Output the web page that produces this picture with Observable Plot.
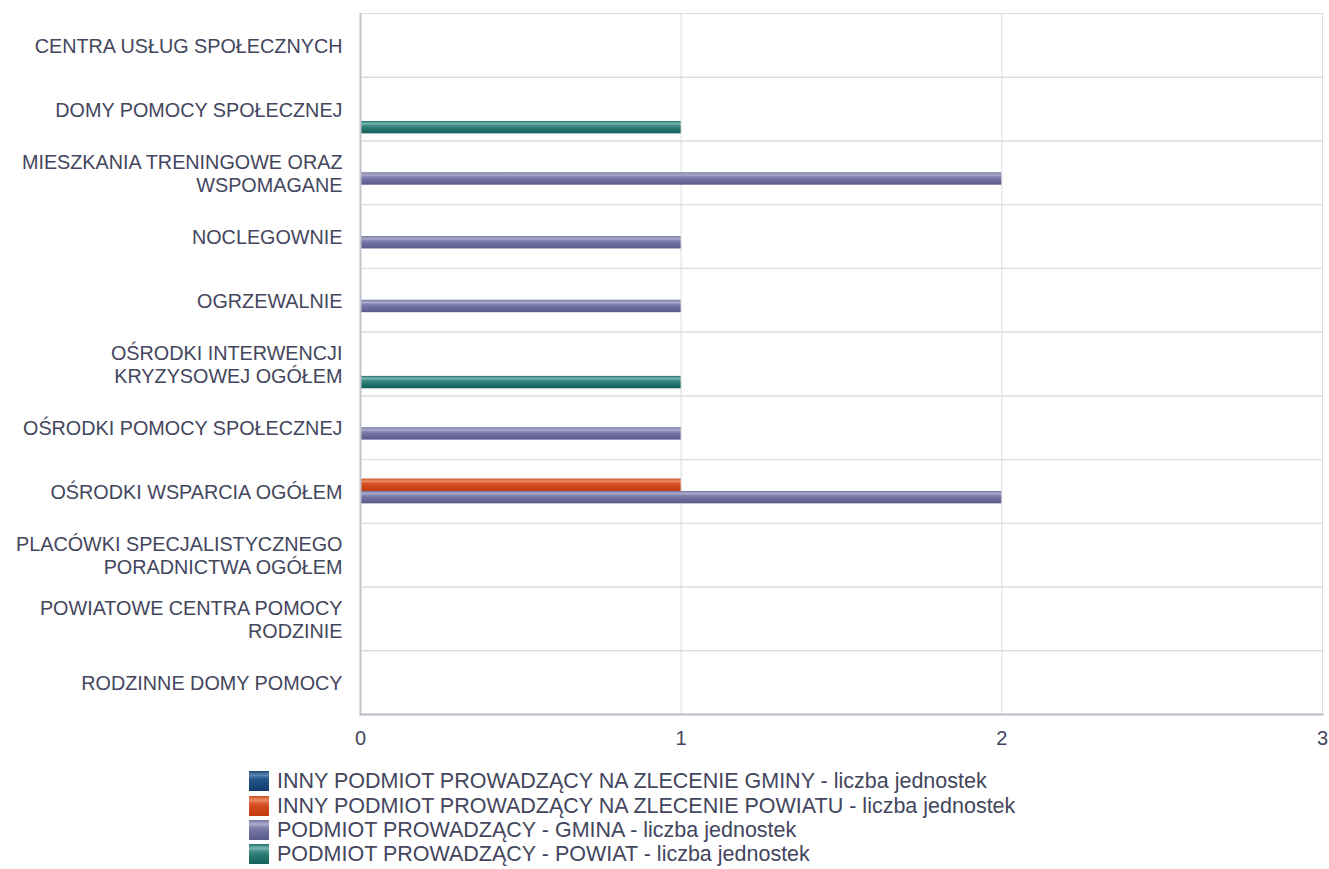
<!DOCTYPE html>
<html><head><meta charset="utf-8">
<script src="https://cdn.jsdelivr.net/npm/d3@7"></script>
<script src="https://cdn.jsdelivr.net/npm/@observablehq/plot@0.6"></script>
<style>
body{margin:0;background:#fff;font-family:"Liberation Sans",Arial,sans-serif;}
#wrap{position:relative;width:1329px;height:869px;overflow:hidden;}
#legend{position:absolute;left:249px;top:769px;color:#43465d;font-size:21.5px;line-height:24px;font-family:"Liberation Sans",Arial,sans-serif;}
.row{display:flex;align-items:center;height:24.4px;white-space:nowrap;}
.sw{width:20px;height:20px;margin-right:8px;flex:none;}
</style></head><body><div id="wrap"></div>
<script>
const categories = [
  "CENTRA USŁUG SPOŁECZNYCH",
  "DOMY POMOCY SPOŁECZNEJ",
  "MIESZKANIA TRENINGOWE ORAZ WSPOMAGANE",
  "NOCLEGOWNIE",
  "OGRZEWALNIE",
  "OŚRODKI INTERWENCJI KRYZYSOWEJ OGÓŁEM",
  "OŚRODKI POMOCY SPOŁECZNEJ",
  "OŚRODKI WSPARCIA OGÓŁEM",
  "PLACÓWKI SPECJALISTYCZNEGO PORADNICTWA OGÓŁEM",
  "POWIATOWE CENTRA POMOCY RODZINIE",
  "RODZINNE DOMY POMOCY"
];
const categoryLabels = [
  "CENTRA USŁUG SPOŁECZNYCH",
  "DOMY POMOCY SPOŁECZNEJ",
  "MIESZKANIA TRENINGOWE ORAZ\nWSPOMAGANE",
  "NOCLEGOWNIE",
  "OGRZEWALNIE",
  "OŚRODKI INTERWENCJI\nKRYZYSOWEJ OGÓŁEM",
  "OŚRODKI POMOCY SPOŁECZNEJ",
  "OŚRODKI WSPARCIA OGÓŁEM",
  "PLACÓWKI SPECJALISTYCZNEGO\nPORADNICTWA OGÓŁEM",
  "POWIATOWE CENTRA POMOCY\nRODZINIE",
  "RODZINNE DOMY POMOCY"
];
const seriesNames = [
  "INNY PODMIOT PROWADZĄCY NA ZLECENIE GMINY - liczba jednostek",
  "INNY PODMIOT PROWADZĄCY NA ZLECENIE POWIATU - liczba jednostek",
  "PODMIOT PROWADZĄCY - GMINA - liczba jednostek",
  "PODMIOT PROWADZĄCY - POWIAT - liczba jednostek"
];
const innyGminaValues  = [0,0,0,0,0,0,0,0,0,0,0];
const innyPowiatValues = [0,0,0,0,0,0,0,1,0,0,0];
const gminaValues      = [0,0,2,1,1,0,1,2,0,0,0];
const powiatValues     = [0,1,0,0,0,1,0,0,0,0,0];
const xTicks = [0,1,2,3];

const seriesGradients = [
  ["#17416e","#3d6a9a","#5a85b0","#285a8c","#1c4c80","#12396a"],
  ["#c8481a","#e0734a","#ea8a63","#d9582b","#cf4617","#c23c10"],
  ["#6e6e9a","#9292bb","#aaaacd","#8080ae","#6d6d9e","#5b5b8b"],
  ["#1d6b66","#4d9791","#79b5b0","#3f8b85","#24766f","#145f5a"]
];
const stopOffsets = [0,0.1,0.22,0.38,0.62,1];

const allValues = [innyGminaValues, innyPowiatValues, gminaValues, powiatValues];
const data = [];
categories.forEach((c,i) => seriesNames.forEach((s,j) => data.push({cat:c, ser:s, si:j, value:allValues[j][i]})));

const labelOf = new Map(categories.map((c,i)=>[c, categoryLabels[i]]));
const ink = "#43465d";
const font = "'Liberation Sans', Arial, sans-serif";

const chart = Plot.plot({
  width: 1329, height: 760,
  marginTop: 13, marginBottom: 46, marginLeft: 360, marginRight: 7,
  style: {fontFamily: font, color: ink, background: "#fff"},
  x: {domain: [0,3]},
  fy: {domain: categories, padding: 0, round: false},
  y: {domain: seriesNames, paddingInner: 0, paddingOuter: 0.57, round: false, axis: null},
  marks: [
    Plot.barX(data, {fy: "cat", y: "ser", x1: 0, x2: "value", fill: "none"}),
    Plot.frame({stroke: "#dcdcdc", strokeWidth: 1}),
    Plot.gridX(xTicks.slice(1), {stroke: "#dcdcdc", strokeOpacity: 1}),
    ...seriesNames.map((s,j) => Plot.barX(data.filter(d => d.si === j && d.value > 0), {
      fy: "cat", y: "ser", x1: 0, x2: "value", fill: `url(#grad${j})`
    })),
    Plot.ruleX([0], {stroke: "#c3c3cd", strokeWidth: 2}),
    Plot.frame({anchor: "bottom", facet: "super", stroke: "#b9b9c5", strokeWidth: 2}),
    Plot.axisFy({anchor: "left", tickSize: 0, tickPadding: 18, fontSize: 19.8, lineHeight: 1.18, label: null,
      tickFormat: d => labelOf.get(d), fill: ink}),
    Plot.axisX(xTicks, {anchor: "bottom", tickSize: 0, tickPadding: 16, fontSize: 20, label: null, fill: ink, tickFormat: d => String(d)})
  ]
});

const NS = "http://www.w3.org/2000/svg";
function makeGrad(id, colors) {
  const g = document.createElementNS(NS, "linearGradient");
  g.setAttribute("id", id);
  g.setAttribute("x1","0"); g.setAttribute("y1","0"); g.setAttribute("x2","0"); g.setAttribute("y2","1");
  colors.forEach((c,k) => {
    const st = document.createElementNS(NS, "stop");
    st.setAttribute("offset", stopOffsets[k]);
    st.setAttribute("stop-color", c);
    g.appendChild(st);
  });
  return g;
}
const defs = document.createElementNS(NS, "defs");
seriesGradients.forEach((cols,j) => defs.appendChild(makeGrad(`grad${j}`, cols)));
chart.insertBefore(defs, chart.firstChild);

const wrap = document.getElementById("wrap");
wrap.appendChild(chart);

const legend = document.createElement("div");
legend.id = "legend";
seriesNames.forEach((s,j) => {
  const row = document.createElement("div");
  row.className = "row";
  const sw = document.createElementNS(NS, "svg");
  sw.setAttribute("class","sw"); sw.setAttribute("width","20"); sw.setAttribute("height","20");
  const d2 = document.createElementNS(NS, "defs");
  d2.appendChild(makeGrad(`lg${j}`, seriesGradients[j]));
  sw.appendChild(d2);
  const r = document.createElementNS(NS, "rect");
  r.setAttribute("width","20"); r.setAttribute("height","20"); r.setAttribute("fill", `url(#lg${j})`);
  sw.appendChild(r);
  const t = document.createElement("span");
  t.textContent = s;
  row.appendChild(sw); row.appendChild(t);
  legend.appendChild(row);
});
wrap.appendChild(legend);
</script>
</body></html>
